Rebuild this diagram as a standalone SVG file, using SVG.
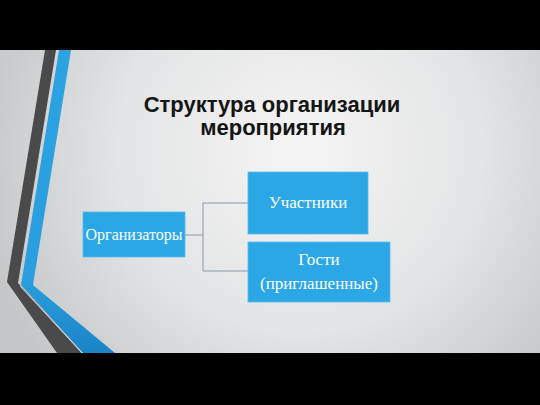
<svg xmlns="http://www.w3.org/2000/svg" width="540" height="405" viewBox="0 0 540 405">
  <defs>
    <radialGradient id="bg" cx="300" cy="150" r="330" gradientUnits="userSpaceOnUse">
      <stop offset="0" stop-color="#f5f5f5"/>
      <stop offset="0.55" stop-color="#e3e4e5"/>
      <stop offset="1" stop-color="#c4c6c7"/>
    </radialGradient>
    <linearGradient id="blueStripe" x1="0" y1="0" x2="0" y2="1">
      <stop offset="0" stop-color="#2aa3e2"/>
      <stop offset="0.75" stop-color="#2a9ede"/>
      <stop offset="1" stop-color="#1b84c6"/>
    </linearGradient>
    <style>
      .box { fill: #2ba7e6; stroke: #5bbcec; stroke-width: 0.8; }
      .lbl { font-family: "Liberation Serif", "Times New Roman", serif; fill: #ffffff; text-anchor: middle; }
      .title { font-family: "Liberation Sans", Arial, sans-serif; font-weight: bold; font-size: 22px; fill: #151515; text-anchor: middle; }
      .conn { fill: none; stroke: #8799a6; stroke-width: 1; }
    </style>
  </defs>

  <rect x="0" y="0" width="540" height="405" fill="#000000"/>
  <rect x="0" y="50" width="540" height="303" fill="url(#bg)"/>

  <g id="decoration">
    <polygon points="45,50 56,50 18,283 82,353 57,353 7,282" fill="#4a4a4b"/>
    <polygon points="59,50 71,50 33,285 115,353 83,353 21,285" fill="url(#blueStripe)"/>
    <line x1="20" y1="286" x2="82" y2="353" stroke="#f2f4f5" stroke-width="0.8"/>
  </g>

  <g id="title">
    <text class="title" x="272" y="112">Структура организации</text>
    <text class="title" x="273" y="135">мероприятия</text>
  </g>

  <g id="connectors">
    <path class="conn" d="M185,235 H203 M203,203 V271 M203,203 H248 M203,271 H248"/>
  </g>

  <g id="organizers">
    <rect class="box" x="83" y="212" width="102" height="45"/>
    <text class="lbl" x="134" y="240" font-size="16">Организаторы</text>
  </g>

  <g id="participants">
    <rect class="box" x="248" y="172" width="120" height="62"/>
    <text class="lbl" x="308" y="208" font-size="17">Участники</text>
  </g>

  <g id="guests">
    <rect class="box" x="248" y="242" width="142" height="60"/>
    <text class="lbl" x="319" y="265" font-size="17">Гости</text>
    <text class="lbl" x="319" y="289" font-size="17">(приглашенные)</text>
  </g>
</svg>
